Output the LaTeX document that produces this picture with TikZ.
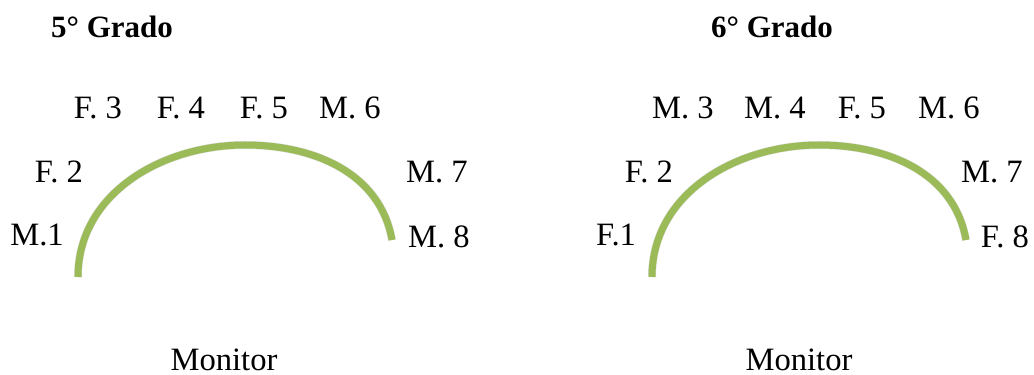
\documentclass[tikz,border=0pt]{standalone}
\usepackage{fontspec}
\setmainfont{Liberation Serif}
\usetikzlibrary{positioning}
\definecolor{deskgreen}{RGB}{155,187,89}

\begin{document}
\begin{tikzpicture}
    [x=0.5pt,y=0.5pt,
    seat/.style={inner sep=0pt,font=\fontsize{16.3}{19}\selectfont},
    grade/.style={inner sep=0pt,font=\fontsize{15.5}{18}\selectfont\bfseries},
    desk/.style={draw=deskgreen,line width=3.5pt,line cap=butt},
    shade/.style={draw=black,opacity=0.12,line width=4pt,line cap=butt}]

    \useasboundingbox (0,0) rectangle (1034,375);

    % 5 grado
    \node (title 5)      at (112,348) [grade] {5° Grado};

    \node (m1 left)      at ( 37,140) [seat] {M.1};
    \node (f2 left)      at ( 59,203) [seat] {F. 2};
    \node (f3 left)      at ( 98,267) [seat] {F. 3};
    \node (f4 left)      at (181,267) [seat] {F. 4};
    \node (f5 left)      at (264,267) [seat] {F. 5};
    \node (m6 left)      at (350,267) [seat] {M. 6};
    \node (m7 left)      at (437,203) [seat] {M. 7};
    \node (m8 left)      at (439,138) [seat] {M. 8};

    \node (monitor left) at (224,15)  [seat] {Monitor};

    \coordinate (start left) at ( 78, 98);
    \coordinate (top left)   at (245,230);
    \coordinate (end left)   at (392,135);
    \draw[shade,xshift=1pt,yshift=-1.5pt] (start left) to[out=90,in=180] (top left) to[out=0,in=100] (end left);
    \draw[desk] (start left) to[out=90,in=180] (top left) to[out=0,in=100] (end left);

    % 6 grado
    \node (title 6)       at (772,348) [grade] {6° Grado};

    \node (f1 right)      at (616,140) [seat] {F.1};
    \node (f2 right)      at (649,203) [seat] {F. 2};
    \node (m3 right)      at (683,267) [seat] {M. 3};
    \node (m4 right)      at (775,267) [seat] {M. 4};
    \node (f5 right)      at (862,267) [seat] {F. 5};
    \node (m6 right)      at (949,267) [seat] {M. 6};
    \node (m7 right)      at (992,203) [seat] {M. 7};
    \node (f8 right)      at (1005,138) [seat] {F. 8};

    \node (monitor right) at (799,15)  [seat] {Monitor};

    \coordinate (start right) at (652, 98);
    \coordinate (top right)   at (819,230);
    \coordinate (end right)   at (966,135);
    \draw[shade,xshift=1pt,yshift=-1.5pt] (start right) to[out=90,in=180] (top right) to[out=0,in=100] (end right);
    \draw[desk] (start right) to[out=90,in=180] (top right) to[out=0,in=100] (end right);

  \end{tikzpicture}
\end{document}
